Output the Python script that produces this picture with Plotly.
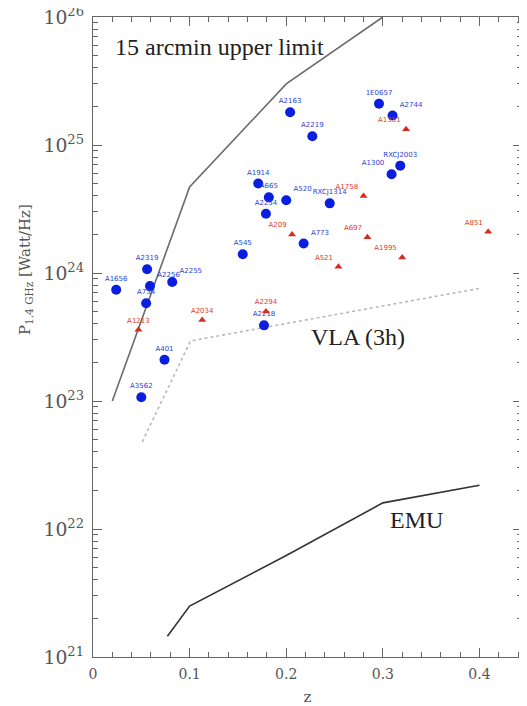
import plotly.graph_objects as go

# Blue circles (radio halos)
blue_names = ["1E0657", "A2744", "A2163", "A2219", "RXCJ2003", "A1300", "RXCJ1314",
              "A1914", "A665", "A520", "A2254", "A773", "A545", "A2319", "A2256",
              "A2255", "A1656", "A754", "A2218", "A401", "A3562"]
blue_z = [0.296, 0.310, 0.204, 0.227, 0.318, 0.309, 0.245,
          0.171, 0.182, 0.200, 0.179, 0.218, 0.155, 0.056, 0.059,
          0.082, 0.024, 0.055, 0.177, 0.074, 0.050]
blue_p = [2.1e25, 1.7e25, 1.8e25, 1.17e25, 6.9e24, 5.9e24, 3.5e24,
          5.0e24, 3.9e24, 3.7e24, 2.9e24, 1.7e24, 1.4e24, 1.07e24, 7.9e23,
          8.5e23, 7.4e23, 5.8e23, 3.9e23, 2.1e23, 1.07e23]
blue_pos = ["top center", "top right", "top center", "top center", "top center", "top left", "top center",
            "top center", "top center", "top right", "top center", "top right", "top center", "top center", "top right",
            "top right", "top center", "top center", "top center", "top center", "top center"]

# Red triangles
red_names = ["A1351", "A1758", "A209", "A521", "A697", "A1995", "A851", "A2294", "A2034", "A1213"]
red_z = [0.324, 0.280, 0.206, 0.254, 0.284, 0.320, 0.409, 0.179, 0.113, 0.047]
red_p = [1.33e25, 4.0e24, 2.0e24, 1.12e24, 1.9e24, 1.32e24, 2.1e24, 5.0e23, 4.3e23, 3.6e23]
red_pos = ["top left", "top left", "top left", "top left", "top left", "top left", "top left",
           "top center", "top center", "top center"]

# Limit curves
arcmin_z = [0.02, 0.1, 0.2, 0.3]
arcmin_p = [1.0e23, 4.7e24, 3.0e25, 1.0e26]
vla_z = [0.051, 0.101, 0.401]
vla_p = [4.8e22, 2.95e23, 7.6e23]
emu_z = [0.077, 0.100, 0.200, 0.300, 0.400]
emu_p = [1.45e21, 2.5e21, 6.2e21, 1.6e22, 2.2e22]

# page body has an 8px default margin; compensate so plot area sits at x 93..522, y 17..657
L, R, T, B = 85, 13, 9, 57
PW = 527 - L - R
PH = 706 - T - B

fig = go.Figure()
fig.add_trace(go.Scatter(x=arcmin_z, y=arcmin_p, mode="lines",
                         line=dict(color="#6a6a6a", width=1.6), hoverinfo="skip"))
fig.add_trace(go.Scatter(x=vla_z, y=vla_p, mode="lines",
                         line=dict(color="#b8b8b8", width=1.6, dash="dot"), hoverinfo="skip"))
fig.add_trace(go.Scatter(x=emu_z, y=emu_p, mode="lines",
                         line=dict(color="#333333", width=1.6), hoverinfo="skip"))
fig.add_trace(go.Scatter(x=blue_z, y=blue_p, mode="markers+text", text=blue_names,
                         textposition=blue_pos,
                         textfont=dict(family="DejaVu Sans", size=7, color="#2a3fd8"),
                         marker=dict(symbol="circle", size=10, color="#0a1ee0")))
fig.add_trace(go.Scatter(x=red_z, y=red_p, mode="markers+text", text=red_names,
                         textposition=red_pos,
                         textfont=dict(family="DejaVu Sans", size=7, color="#e03a30"),
                         marker=dict(symbol="triangle-up", size=7, color="#d82a20")))

ann_font = dict(family="Liberation Serif", size=24, color="#222222")
fig.add_annotation(x=0.021, y=25.766, xref="x", yref="y", text="15 arcmin upper limit",
                   showarrow=False, xanchor="left", font=ann_font)
fig.add_annotation(x=0.274, y=23.5, xref="x", yref="y", text="VLA (3h)",
                   showarrow=False, xanchor="center", font=ann_font)
fig.add_annotation(x=0.335, y=22.07, xref="x", yref="y", text="EMU",
                   showarrow=False, xanchor="center", font=ann_font)
fig.add_annotation(x=(25 - 93) / PW, y=(657 - 270) / PH, xref="paper", yref="paper",
                   text="P<sub>1.4 GHz</sub> [Watt/Hz]",
                   showarrow=False, textangle=-90, xanchor="center", yanchor="middle",
                   font=dict(family="DejaVu Serif", size=15, color="#555"))

tickfont = dict(family="DejaVu Serif", size=14, color="#555555")
fig.update_xaxes(range=[0, 0.444], dtick=0.1, tick0=0, ticks="inside", ticklen=9,
                 tickcolor="#666", mirror="ticks", showline=True, linecolor="#666", linewidth=1,
                 showgrid=False, zeroline=False, tickfont=tickfont, automargin=False,
                 ticklabelstandoff=4, ticklabeloverflow="allow",
                 minor=dict(dtick=0.02, ticks="inside", ticklen=5, tickcolor="#666", showgrid=False),
                 title=dict(text="z", font=dict(family="DejaVu Serif", size=15, color="#555"), standoff=10))
fig.update_yaxes(type="log", range=[21, 26], dtick=1, ticks="inside", ticklen=9,
                 tickcolor="#666", mirror="ticks", showline=True, linecolor="#666", linewidth=1,
                 showgrid=False, zeroline=False, tickfont=dict(family="DejaVu Serif", size=15, color="#555"),
                 exponentformat="power", automargin=False, ticklabelstandoff=5,
                 ticklabeloverflow="allow",
                 minor=dict(dtick="D1", ticks="inside", ticklen=5, tickcolor="#666", showgrid=False))
fig.update_layout(width=527, height=706, margin=dict(l=L, r=R, t=T, b=B),
                  plot_bgcolor="white", paper_bgcolor="white", showlegend=False)
fig.write_html("out.html")
